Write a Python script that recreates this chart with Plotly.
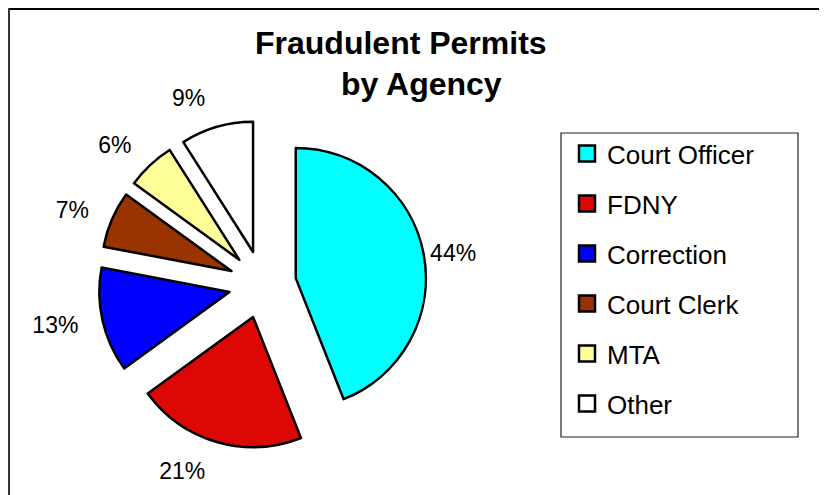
import plotly.graph_objects as go

categories = ["Court Officer", "FDNY", "Correction", "Court Clerk", "MTA", "Other"]
values = [44, 21, 13, 7, 6, 9]
colors = ["#00FFFF", "#DD0806", "#0000FF", "#993300", "#FFFF99", "#FFFFFF"]
title_lines = ["Fraudulent Permits", "by Agency"]

W, H = 827, 495
OFF = 8  # page offset of the plot div
FONT = "Liberation Sans, Arial, sans-serif"


def px(x):
    return (x - OFF) / W


def py(y):
    return 1 - (y - OFF) / H


CX, CY = 262.5, 284.5   # pie centre (page px)
HALF = 164              # half size of pie domain
LHALF = 182             # half size of label-carrying pie domain

# labels placed by an unseen, slightly larger copy of the pie (only small slices)
big_templates = ["" if v == max(values) else "%{percent}" for v in values]
main_templates = ["%{percent}" if v == max(values) else "" for v in values]

fig = go.Figure()

fig.add_trace(go.Pie(
    labels=categories,
    values=values,
    sort=False,
    direction="clockwise",
    rotation=0,
    pull=[0.26] * len(values),
    marker=dict(colors=["rgba(0,0,0,0)"] * len(values), line=dict(width=0)),
    texttemplate=big_templates,
    textposition="outside",
    outsidetextfont=dict(family=FONT, size=23, color="black"),
    showlegend=False,
    hoverinfo="skip",
    domain=dict(x=[px(CX - LHALF), px(CX + LHALF)], y=[py(CY + LHALF), py(CY - LHALF)]),
))

fig.add_trace(go.Pie(
    labels=categories,
    values=values,
    sort=False,
    direction="clockwise",
    rotation=0,
    pull=[0.26] * len(values),
    marker=dict(colors=colors, line=dict(color="black", width=2.5)),
    texttemplate=main_templates,
    textposition="outside",
    outsidetextfont=dict(family=FONT, size=23, color="black"),
    showlegend=False,
    hoverinfo="label+percent",
    domain=dict(x=[px(CX - HALF), px(CX + HALF)], y=[py(CY + HALF), py(CY - HALF)]),
))

# legend entries (one group per category so spacing can be matched)
for cat, col in zip(categories, colors):
    fig.add_trace(go.Scatter(
        x=[None], y=[None], mode="markers", name=cat,
        legendgroup=cat,
        marker=dict(symbol="square", size=20, color=col,
                    line=dict(color="black", width=2.5)),
        hoverinfo="skip",
    ))

fig.add_annotation(text="<b>%s</b>" % title_lines[0], x=px(401), y=py(43),
                   xref="paper", yref="paper", showarrow=False,
                   xanchor="center", yanchor="middle",
                   font=dict(family=FONT, size=32, color="black"))
fig.add_annotation(text="<b>%s</b>" % title_lines[1], x=px(421), y=py(84),
                   xref="paper", yref="paper", showarrow=False,
                   xanchor="center", yanchor="middle",
                   font=dict(family=FONT, size=32, color="black"))

shapes = [
    # legend box
    dict(type="rect", xref="paper", yref="paper",
         x0=px(561), x1=px(798), y0=py(437), y1=py(133),
         line=dict(color="#222222", width=1.2), fillcolor="rgba(0,0,0,0)", layer="below"),
    # chart outer border (top and left visible)
    dict(type="line", xref="paper", yref="paper",
         x0=0.5 / W, x1=1.0, y0=1 - 1 / H, y1=1 - 1 / H,
         line=dict(color="black", width=2)),
    dict(type="line", xref="paper", yref="paper",
         x0=1 / W, x1=1 / W, y0=1 - 0.5 / H, y1=0.0,
         line=dict(color="#333333", width=2)),
]

fig.update_layout(
    width=W, height=H,
    margin=dict(l=0, r=0, t=0, b=0, pad=0, autoexpand=False),
    paper_bgcolor="white", plot_bgcolor="white",
    xaxis=dict(visible=False), yaxis=dict(visible=False),
    showlegend=True,
    legend=dict(x=px(567), y=py(130), xanchor="left", yanchor="top",
                font=dict(family=FONT, size=26, color="black"),
                tracegroupgap=13.2, bgcolor="rgba(0,0,0,0)", borderwidth=0),
    shapes=shapes,
)

fig.write_html("out.html")
